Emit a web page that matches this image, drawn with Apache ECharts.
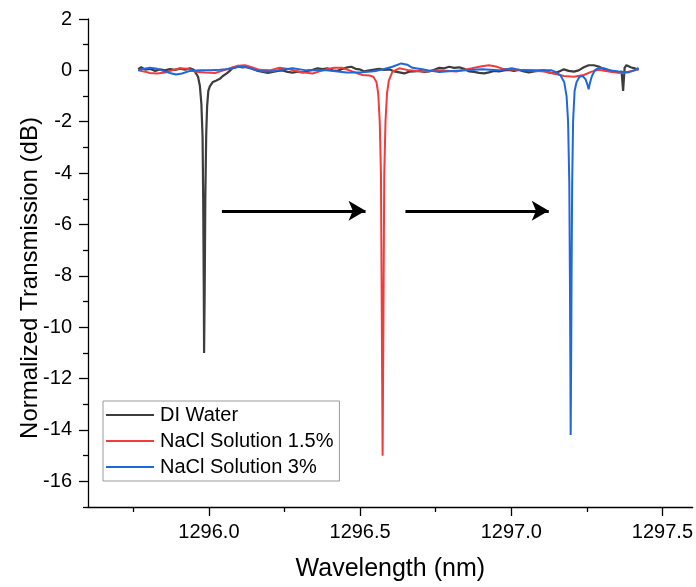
<!DOCTYPE html>
<html>
<head>
<meta charset="utf-8">
<script src="https://cdn.jsdelivr.net/npm/echarts@6/dist/echarts.min.js"></script>
<style>
  html, body { margin: 0; padding: 0; background: #fff; }
  #chart { width: 696px; height: 587px; }
</style>
</head>
<body>
<div id="chart"></div>
<script>
// Transmission spectra, [wavelength (nm), normalized transmission (dB)]
const diWater = [
  [1295.766, 0.05], [1295.776, 0.12], [1295.789, 0.03], [1295.805, 0.06], [1295.822, -0.02],
  [1295.838, 0.04], [1295.855, 0.00], [1295.871, 0.05], [1295.888, 0.02], [1295.904, 0.07],
  [1295.921, 0.03], [1295.937, 0.08], [1295.950, 0.02], [1295.954, -0.05], [1295.964, -0.25],
  [1295.970, -0.6], [1295.975, -1.3], [1295.979, -2.6], [1295.981, -5.0], [1295.983, -8.5],
  [1295.984, -11.0], [1295.986, -8.5], [1295.988, -5.0], [1295.991, -2.5], [1295.994, -1.4],
  [1295.998, -0.8], [1296.003, -0.62], [1296.013, -0.45], [1296.023, -0.4], [1296.036, -0.33],
  [1296.046, -0.22], [1296.059, -0.12], [1296.069, -0.02], [1296.079, 0.10], [1296.096, 0.14],
  [1296.112, 0.12], [1296.129, 0.14], [1296.145, 0.05], [1296.162, -0.02], [1296.178, -0.06],
  [1296.195, -0.10], [1296.211, -0.06], [1296.228, -0.02], [1296.244, 0.00], [1296.260, -0.06],
  [1296.277, -0.09], [1296.293, -0.05], [1296.310, -0.08], [1296.326, -0.02], [1296.343, 0.02],
  [1296.359, 0.08], [1296.376, 0.05], [1296.392, 0.08], [1296.409, 0.00], [1296.425, -0.02],
  [1296.442, 0.06], [1296.458, 0.12], [1296.471, 0.14], [1296.485, 0.06], [1296.498, 0.04],
  [1296.514, -0.04], [1296.531, 0.00], [1296.547, 0.03], [1296.564, 0.06], [1296.580, 0.02],
  [1296.597, 0.04], [1296.613, -0.04], [1296.630, -0.08], [1296.646, -0.12], [1296.663, -0.05],
  [1296.679, -0.04], [1296.696, -0.02], [1296.712, -0.06], [1296.729, -0.04], [1296.745, 0.02],
  [1296.762, 0.10], [1296.778, 0.08], [1296.795, 0.14], [1296.811, 0.10], [1296.828, 0.12],
  [1296.844, 0.06], [1296.861, -0.04], [1296.877, -0.06], [1296.894, -0.10], [1296.910, -0.12],
  [1296.926, -0.08], [1296.943, -0.02], [1296.959, -0.04], [1296.976, 0.00], [1296.992, 0.02],
  [1297.009, -0.02], [1297.025, 0.02], [1297.042, -0.04], [1297.058, -0.08], [1297.075, -0.04],
  [1297.091, -0.02], [1297.108, 0.00], [1297.124, -0.08], [1297.141, -0.12], [1297.157, -0.05],
  [1297.174, 0.04], [1297.190, -0.02], [1297.207, -0.05], [1297.223, 0.00], [1297.240, 0.12],
  [1297.256, 0.20], [1297.273, 0.20], [1297.289, 0.15], [1297.306, 0.05], [1297.322, 0.00],
  [1297.339, -0.04], [1297.355, -0.08], [1297.365, -0.05], [1297.370, -0.8], [1297.375, 0.10],
  [1297.381, 0.20], [1297.395, 0.12], [1297.408, 0.08], [1297.421, 0.02]
];

const nacl15 = [
  [1295.766, 0.00], [1295.789, -0.05], [1295.805, -0.10], [1295.829, -0.12], [1295.855, -0.08],
  [1295.878, 0.00], [1295.904, 0.08], [1295.931, 0.06], [1295.954, -0.05], [1295.987, -0.08],
  [1296.020, -0.10], [1296.043, -0.02], [1296.069, 0.08], [1296.096, 0.18], [1296.119, 0.20],
  [1296.142, 0.12], [1296.168, 0.02], [1296.201, 0.00], [1296.234, 0.10], [1296.267, 0.04],
  [1296.300, -0.06], [1296.343, -0.12], [1296.366, -0.04], [1296.389, 0.04], [1296.415, 0.10],
  [1296.439, 0.10], [1296.465, 0.00], [1296.488, -0.10], [1296.508, -0.18], [1296.531, -0.20],
  [1296.544, -0.25], [1296.554, -0.45], [1296.560, -0.9], [1296.565, -2.0], [1296.569, -4.0],
  [1296.571, -8.0], [1296.573, -12.0], [1296.5745, -15.0], [1296.576, -12.0], [1296.578, -8.0],
  [1296.580, -4.0], [1296.584, -2.0], [1296.589, -0.9], [1296.595, -0.4], [1296.607, -0.05],
  [1296.630, 0.08], [1296.663, 0.00], [1296.706, -0.04], [1296.762, 0.00], [1296.818, -0.04],
  [1296.870, 0.08], [1296.903, 0.16], [1296.926, 0.20], [1296.949, 0.15], [1296.976, 0.05],
  [1297.015, 0.02], [1297.058, 0.00], [1297.108, -0.04], [1297.141, -0.12], [1297.174, -0.22],
  [1297.207, -0.25], [1297.240, -0.18], [1297.266, -0.05], [1297.289, 0.02], [1297.332, -0.06],
  [1297.372, -0.10], [1297.398, -0.02], [1297.421, 0.04]
];

const nacl3 = [
  [1295.766, 0.00], [1295.782, 0.05], [1295.805, 0.10], [1295.829, 0.06], [1295.848, -0.02],
  [1295.871, -0.10], [1295.891, -0.16], [1295.911, -0.12], [1295.937, -0.02], [1295.970, 0.00],
  [1296.003, 0.00], [1296.036, 0.02], [1296.069, 0.05], [1296.092, 0.12], [1296.112, 0.15],
  [1296.135, 0.08], [1296.158, 0.00], [1296.185, -0.04], [1296.218, -0.02], [1296.251, 0.04],
  [1296.277, 0.08], [1296.323, 0.00], [1296.389, 0.00], [1296.455, -0.08], [1296.498, -0.08],
  [1296.554, -0.02], [1296.580, 0.05], [1296.607, 0.14], [1296.636, 0.27], [1296.656, 0.22],
  [1296.673, 0.10], [1296.706, 0.04], [1296.735, -0.02], [1296.762, -0.06], [1296.805, -0.02],
  [1296.851, 0.00], [1296.903, 0.04], [1296.959, 0.00], [1297.002, 0.08], [1297.035, 0.00],
  [1297.091, 0.00], [1297.134, 0.00], [1297.150, -0.08], [1297.163, -0.20], [1297.175, -0.45],
  [1297.183, -1.0], [1297.188, -2.0], [1297.192, -4.4], [1297.194, -8.0], [1297.1955, -11.5],
  [1297.1965, -14.2], [1297.198, -11.5], [1297.1995, -8.0], [1297.2015, -4.4], [1297.2045, -2.0],
  [1297.2095, -0.8], [1297.216, -0.45], [1297.226, -0.25], [1297.236, -0.22], [1297.246, -0.35],
  [1297.253, -0.6], [1297.256, -0.74], [1297.259, -0.55], [1297.266, -0.25], [1297.276, 0.00],
  [1297.289, 0.10], [1297.306, 0.08], [1297.329, 0.00], [1297.355, -0.04], [1297.388, -0.08],
  [1297.408, 0.00], [1297.421, 0.10]
];

const seriesNames = ['DI Water', 'NaCl Solution 1.5%', 'NaCl Solution 3%'];

// Axis ticks
const xMajorTicks = [1296.0, 1296.5, 1297.0, 1297.5];
const xMinorTicks = [1295.75, 1296.25, 1296.75, 1297.25];
const yMajorTicks = [-16, -14, -12, -10, -8, -6, -4, -2, 0, 2];
const yMinorTicks = [-17, -15, -13, -11, -9, -7, -5, -3, -1, 1];

// Resonance shift arrows: [[x0, y], [x1, y]]
const shiftArrows = [
  [[1296.043, -5.47], [1296.518, -5.47]],
  [[1296.650, -5.47], [1297.124, -5.47]]
];

const FONT = 'Liberation Sans, Arial, sans-serif';
const X_RANGE = [1295.6, 1297.6];
const Y_RANGE = [-17, 2];

const chart = echarts.init(document.getElementById('chart'), null, { renderer: 'canvas' });

const axisLineStyle = { color: '#000', width: 1.3 };

function line(name, data, color, width) {
  return {
    name, type: 'line', data,
    xAxisIndex: 0, yAxisIndex: 0,
    showSymbol: false, symbol: 'none', smooth: false,
    lineStyle: { color, width },
    itemStyle: { color },
    animation: false, silent: true
  };
}

const blackS = line(seriesNames[0], diWater, '#3d3d3d', 2.2);
const redS = line(seriesNames[1], nacl15, '#f23c3c', 2);
const blueS = line(seriesNames[2], nacl3, '#1f67df', 2);

blueS.markLine = {
  silent: true,
  symbol: ['none', 'arrow'],
  symbolSize: [15, 17],
  label: { show: false },
  lineStyle: { color: '#000', width: 3, type: 'solid' },
  data: shiftArrows.map(a => [{ coord: a[0] }, { coord: a[1] }])
};

chart.setOption({
  backgroundColor: '#fff',
  animation: false,
  textStyle: { fontFamily: FONT },
  grid: { left: 88, right: 0, top: 19, bottom: 79, containLabel: false },
  legend: {
    data: seriesNames,
    orient: 'vertical',
    left: 103, top: 401,
    width: 238,
    padding: [4, 6, 4, 3],
    itemGap: 6,
    itemWidth: 48,
    itemHeight: 2,
    icon: 'rect',
    borderColor: '#9a9a9a',
    borderWidth: 1,
    textStyle: { fontSize: 20, color: '#000', fontFamily: FONT, padding: [0, 0, 0, 1] },
    selectedMode: false
  },
  xAxis: [
    {
      type: 'value', min: X_RANGE[0], max: X_RANGE[1], position: 'bottom',
      name: 'Wavelength (nm)', nameLocation: 'middle', nameGap: 50, nameMoveOverlap: false,
      nameTextStyle: { fontSize: 25, color: '#000', fontFamily: FONT },
      axisLine: { show: true, onZero: false, lineStyle: axisLineStyle },
      axisTick: { show: true, inside: false, length: 9, customValues: xMajorTicks, lineStyle: axisLineStyle },
      axisLabel: {
        show: true, customValues: xMajorTicks, margin: 15, fontSize: 20, color: '#000', fontFamily: FONT,
        formatter: v => v.toFixed(1)
      },
      splitLine: { show: false }
    },
    {
      type: 'value', min: X_RANGE[0], max: X_RANGE[1], position: 'bottom', offset: 0,
      axisLine: { show: false, onZero: false },
      axisTick: { show: true, length: 5, customValues: xMinorTicks, lineStyle: axisLineStyle },
      axisLabel: { show: false },
      splitLine: { show: false }
    }
  ],
  yAxis: [
    {
      type: 'value', min: Y_RANGE[0], max: Y_RANGE[1], position: 'left',
      name: 'Normalized Transmission (dB)', nameLocation: 'middle', nameGap: 46, nameMoveOverlap: false,
      nameTextStyle: { fontSize: 24, color: '#000', fontFamily: FONT, padding: [0, 30, 0, 0] },
      axisLine: { show: true, onZero: false, lineStyle: axisLineStyle },
      axisTick: { show: true, inside: false, length: 9, customValues: yMajorTicks, lineStyle: axisLineStyle },
      axisLabel: { show: true, customValues: yMajorTicks, margin: 16, fontSize: 20, color: '#000', fontFamily: FONT },
      splitLine: { show: false }
    },
    {
      type: 'value', min: Y_RANGE[0], max: Y_RANGE[1], position: 'left', offset: 0,
      axisLine: { show: false, onZero: false },
      axisTick: { show: true, length: 5, customValues: yMinorTicks, lineStyle: axisLineStyle },
      axisLabel: { show: false },
      splitLine: { show: false }
    }
  ],
  series: [blackS, redS, blueS]
});
</script>
</body>
</html>
